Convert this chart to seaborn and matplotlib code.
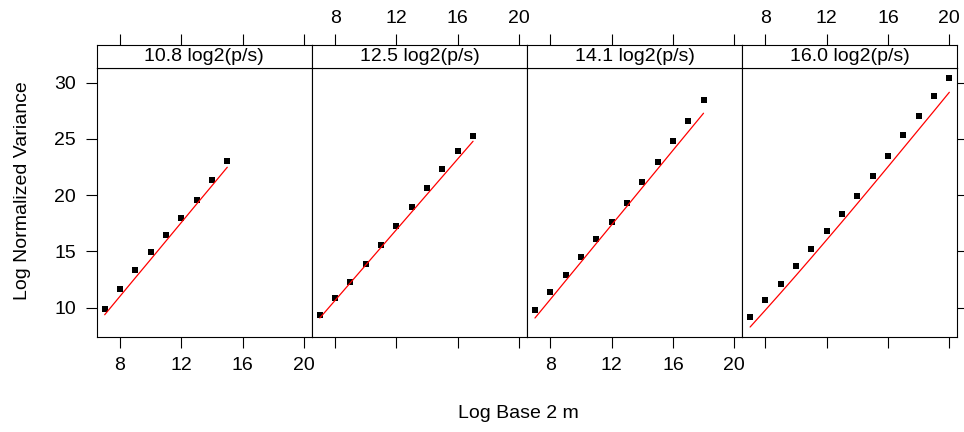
import matplotlib
matplotlib.use("Agg")
import matplotlib.pyplot as plt
import seaborn as sns
import pandas as pd

# ---- data ----
panel_labels = ["10.8 log2(p/s)", "12.5 log2(p/s)", "14.1 log2(p/s)", "16.0 log2(p/s)"]

m_1 = [7, 8, 9, 10, 11, 12, 13, 14, 15]
var_1 = [9.88, 11.66, 13.35, 14.94, 16.45, 17.96, 19.56, 21.33, 23.02]
fit_1 = [9.38, 11.02, 12.66, 14.29, 15.93, 17.57, 19.21, 20.84, 22.48]

m_2 = [7, 8, 9, 10, 11, 12, 13, 14, 15, 16, 17]
var_2 = [9.35, 10.86, 12.28, 13.88, 15.56, 17.25, 18.94, 20.62, 22.31, 23.90, 25.24]
fit_2 = [9.09, 10.66, 12.23, 13.80, 15.37, 16.94, 18.51, 20.08, 21.65, 23.22, 24.79]

m_3 = [7, 8, 9, 10, 11, 12, 13, 14, 15, 16, 17, 18]
var_3 = [9.80, 11.39, 12.90, 14.50, 16.10, 17.60, 19.29, 21.15, 22.93, 24.79, 26.57, 28.43]
fit_3 = [9.09, 10.74, 12.40, 14.05, 15.71, 17.36, 19.01, 20.67, 22.32, 23.98, 25.63, 27.28]

m_4 = [7, 8, 9, 10, 11, 12, 13, 14, 15, 16, 17, 18, 19, 20]
var_4 = [9.17, 10.68, 12.10, 13.70, 15.21, 16.81, 18.31, 19.91, 21.69, 23.46, 25.32, 27.01, 28.78, 30.38]
fit_4 = [8.29, 9.80, 11.33, 12.88, 14.45, 16.04, 17.64, 19.26, 20.89, 22.53, 24.18, 25.83, 27.48, 29.14]

x_ticks = [8, 12, 16, 20]
y_ticks = [10, 15, 20, 25, 30]

frames = []
for lab, m, v, f in zip(panel_labels, [m_1, m_2, m_3, m_4], [var_1, var_2, var_3, var_4],
                        [fit_1, fit_2, fit_3, fit_4]):
    frames.append(pd.DataFrame({"panel": lab, "m": m, "var": v, "fit": f}))
df = pd.concat(frames, ignore_index=True)

# ---- style ----
sns.set_theme(style="white")
plt.rcParams["font.family"] = ["Liberation Sans", "DejaVu Sans"]
plt.rcParams["font.size"] = 14
plt.rcParams["text.color"] = "black"
plt.rcParams["axes.labelcolor"] = "black"
plt.rcParams["xtick.color"] = "black"
plt.rcParams["ytick.color"] = "black"
plt.rcParams["xtick.labelcolor"] = "black"
plt.rcParams["ytick.labelcolor"] = "black"

W, H = 964, 432
fig = plt.figure(figsize=(W / 100, H / 100), dpi=100)
fig.patch.set_facecolor("white")

left0 = 96.7
pw = 215.15
p_top, p_bot = 68.3, 336.7
s_top = 44.5
xlim = (6.48, 20.52)
ylim = (7.43, 31.27)
tick_len = 7.9
lw_frame = 0.8

for i, lab in enumerate(panel_labels):
    x0 = (left0 + i * pw) / W
    ax = fig.add_axes([x0, (H - p_bot) / H, pw / W, (p_bot - p_top) / H])
    sub = df[df["panel"] == lab]
    sns.lineplot(data=sub, x="m", y="fit", color="#FF0000", linewidth=0.9, ax=ax)
    sns.scatterplot(data=sub, x="m", y="var", marker="s", s=22, color="black",
                    linewidth=0, ax=ax)
    ax.set_xlim(*xlim)
    ax.set_ylim(*ylim)
    ax.set_xlabel("")
    ax.set_ylabel("")
    ax.set_xticks(x_ticks)
    ax.set_yticks(y_ticks)
    for sp in ax.spines.values():
        sp.set_color("black")
        sp.set_linewidth(lw_frame)
    ax.tick_params(axis="x", direction="out", length=tick_len, width=0.8, color="black",
                   labelcolor="black", bottom=True, top=False, labelbottom=(i in (0, 2)),
                   labelsize=14, pad=7)
    ax.tick_params(axis="y", direction="out", length=tick_len, width=0.8, color="black",
                   labelcolor="black", left=(i == 0), right=(i == 3), labelleft=(i == 0),
                   labelright=False, labelsize=14, pad=7)
    ax.set_facecolor("white")

    # strip
    sax = fig.add_axes([x0, (H - p_top) / H, pw / W, (p_top - s_top) / H])
    sax.set_xlim(*xlim)
    sax.set_ylim(0, 1)
    sax.set_xticks(x_ticks)
    sax.set_yticks([])
    sax.tick_params(axis="x", direction="out", length=tick_len, width=0.8, color="black",
                    labelcolor="black", bottom=False, top=True, labelbottom=False,
                    labeltop=(i in (1, 3)), labelsize=14, pad=5)
    for sp in sax.spines.values():
        sp.set_color("black")
        sp.set_linewidth(lw_frame)
    sax.set_facecolor("white")
    sax.text(0.5, 0.5, lab, transform=sax.transAxes, ha="center", va="center",
             fontsize=14, color="black")

fig.text(22.5 / W, 1 - 191 / H, "Log Normalized Variance", rotation=90,
         ha="center", va="center", fontsize=14, color="black")
fig.text(518 / W, 1 - 413 / H, "Log Base 2 m", ha="center", va="center",
         fontsize=14, color="black")

fig.savefig("out.png", dpi=100, facecolor="white")
